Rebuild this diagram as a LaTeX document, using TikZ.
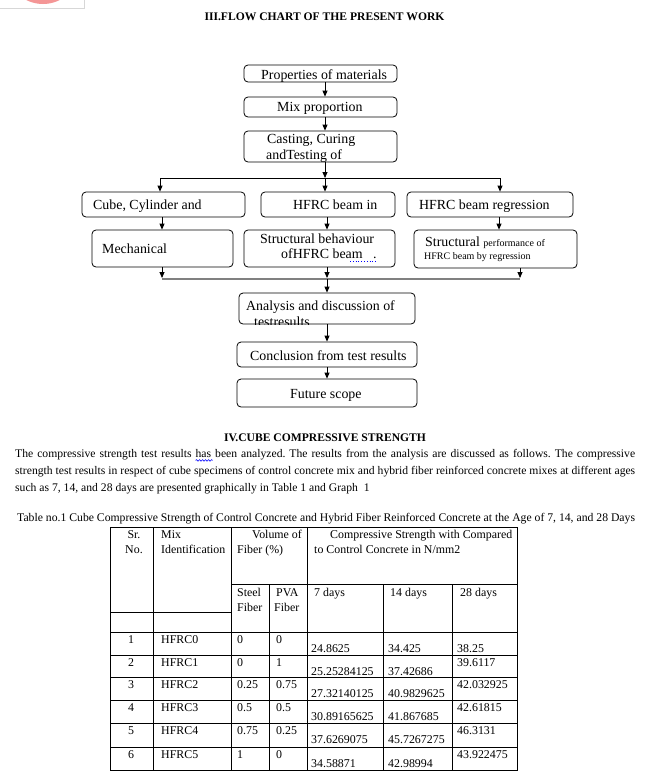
\documentclass[tikz,border=0pt]{standalone}
\usepackage{fontspec}
\setmainfont{Liberation Serif}
\usetikzlibrary{arrows.meta,decorations.pathmorphing}
\definecolor{logopink}{RGB}{244,150,150}
\definecolor{framegray}{RGB}{215,215,215}
\definecolor{joingray}{RGB}{128,128,128}
\newcommand\spellwave[1]{\tikz[overlay,baseline]{\draw[blue, line width=0.6pt, decorate, decoration={snake, amplitude=0.8pt, segment length=3pt}] (0pt,-3pt) -- (17pt,-3pt);}#1}
\begin{document}
\begin{tikzpicture}[x=1pt,y=-1pt,
  box/.style={draw, rounded corners=4pt, line width=0.8pt, inner sep=0pt},
  arr/.style={-{Triangle[width=5pt,length=6pt]}, line width=0.8pt},
  ftxt/.style={anchor=base west, inner sep=0pt, font=\fontsize{13.9}{16}\selectfont},
  stxt/.style={anchor=base west, inner sep=0pt, font=\fontsize{10}{12}\selectfont},
  ttxt/.style={anchor=base west, inner sep=0pt, font=\fontsize{11.9}{14}\selectfont},
  tctr/.style={anchor=base, inner sep=0pt, font=\fontsize{11.9}{14}\selectfont},
  head/.style={anchor=base, inner sep=0pt, font=\bfseries\fontsize{11.6}{14}\selectfont},
  tline/.style={line width=0.8pt},
]
\useasboundingbox (0,0) rectangle (663,777);
\fill[white] (0,0) rectangle (663,777);
% logo remnant
\fill[logopink] (43,-33) circle (37);
\draw[framegray, line width=0.6pt] (0,8.5) -- (84,8.5) -- (84,0);

\node[head] (t3) at (324.5,20) {III.FLOW CHART OF THE PRESENT WORK};

% boxes
\node[box, minimum width=153pt, minimum height=17pt] (b1) at (320.5,73.5) {};
\node[box, minimum width=153pt, minimum height=20pt] (b2) at (320.5,107) {};
\node[box, minimum width=153pt, minimum height=31pt] (b3) at (320.5,146.5) {};
\node[box, minimum width=163pt, minimum height=25pt] (c1) at (163.5,204.5) {};
\node[box, minimum width=134pt, minimum height=25pt] (c2) at (328,204.5) {};
\node[box, minimum width=166pt, minimum height=25pt] (c3) at (490,204.5) {};
\node[box, minimum width=141pt, minimum height=37pt] (d1) at (162.5,248.5) {};
\node[box, minimum width=151pt, minimum height=37pt] (d2) at (319.5,248.5) {};
\node[box, minimum width=163pt, minimum height=38pt] (d3) at (495.5,249) {};
\node[box, minimum width=176pt, minimum height=31pt] (e1) at (327,308.5) {};
\node[box, minimum width=180pt, minimum height=25pt] (e2) at (327,354.5) {};
\node[box, minimum width=180pt, minimum height=28pt] (e3) at (327,393) {};

% box texts
\node[ftxt] (tb1) at (261,79) {Properties of materials};
\node[ftxt] (tb2) at (277,111) {Mix proportion};
\begin{scope}
\clip (244,131) rectangle (397,162);
\node[ftxt] (tb3a) at (267,143) {Casting, Curing};
\node[ftxt] (tb3b) at (266,159) {andTesting of};
\end{scope}
\node[ftxt] (tc1) at (93,209) {Cube, Cylinder and};
\node[ftxt] (tc2) at (293,209) {HFRC beam in};
\node[ftxt] (tc3) at (419,209) {HFRC beam regression};
\node[ftxt] (td1) at (102,253) {Mechanical};
\node[ftxt] (td2a) at (260,243) {Structural behaviour};
\node[ftxt] (td2b) at (281,258) {ofHFRC beam};
\node[ftxt] (td2c) at (373,258) {.};
\draw[blue, dotted, line width=0.8pt] (350,261) -- (377,261);
\node[ftxt] (td3a) at (425,246) {Structural {\fontsize{10}{12}\selectfont performance of}};
\node[stxt] (td3b) at (424,259) {HFRC beam by regression};
\begin{scope}
\clip (239,293) rectangle (415,324);
\node[ftxt] (te1a) at (246,310) {Analysis and discussion of};
\node[ftxt] (te1b) at (254,326) {testresults};
\end{scope}
\node[ftxt] (te2) at (250,360) {Conclusion from test results};
\node[ftxt] (te3) at (290,398) {Future scope};

% junction coordinates
\coordinate (jl) at (160,178);
\coordinate (jm) at (325,178);
\coordinate (jr) at (500,178);
\coordinate (gl) at (162,279);
\coordinate (gm) at (327,279);
\coordinate (gr) at (520,279);
\coordinate (rc) at (499,0);

% connectors
\draw[arr] (b1.south -| jm) -- (b2.north -| jm);
\draw[arr] (b2.south -| jm) -- (b3.north -| jm);
\draw[arr] (b3.south -| jm) -- (jm);
\draw[line width=0.8pt] (jl) -- (jr);
\draw[arr] (jl) -- (c1.north -| jl);
\draw[arr] (jm) -- (c2.north -| jm);
\draw[arr] (jr) -- (c3.north -| jr);
\draw[arr] (c1.south -| gl) -- (d1.north -| gl);
\draw[arr] (c2.south -| gm) -- (d2.north -| gm);
\draw[arr] (c3.south -| rc) -- (d3.north -| rc);
\draw[joingray, line width=2.2pt] (gl) -- (gr);
\draw[arr] (d1.south -| gl) -- ([yshift=1pt]gl);
\draw[arr] (d2.south -| gm) -- ([yshift=1pt]gm);
\draw[arr] (d3.south -| gr) -- ([yshift=1pt]gr);
\draw[arr] (gm) -- (e1.north -| gm);
\draw[arr] (e1.south -| gm) -- (e2.north -| gm);
\draw[arr] (e2.south -| gm) -- (e3.north -| gm);

% section IV
\node[head] (t4) at (325,441) {IV.CUBE COMPRESSIVE STRENGTH};
\node[anchor=north west, inner sep=0pt, text width=620pt, align=justify,
      font=\fontsize{11.65}{17}\selectfont\frenchspacing] (para) at (15,449)
 {The compressive strength test results \spellwave{has} been analyzed. The results from the analysis are discussed as follows. The compressive\linebreak
  strength test results in respect of cube specimens of control concrete mix and hybrid fiber reinforced concrete mixes at different ages\linebreak
  such as 7, 14, and 28 days are presented graphically in Table 1 and Graph\ \ 1};

\node[anchor=base west, inner sep=0pt, font=\fontsize{11.7}{14}\selectfont] (cap) at (17,521) {Table no.1 Cube Compressive Strength of Control Concrete and Hybrid Fiber Reinforced Concrete at the Age of 7, 14, and 28 Days};

% table grid
\draw[tline] (110,527) rectangle (517,770);
\draw[tline] (153,527) -- (153,770);
\draw[tline] (231,527) -- (231,770);
\draw[tline] (307,527) -- (307,770);
\draw[tline] (231,584) -- (517,584);
\draw[tline] (269,584) -- (269,770);
\draw[tline] (383,584) -- (383,770);
\draw[tline] (452,584) -- (452,770);
\draw[tline] (110,612) -- (231,612);
\foreach \yy in {632,655,677,700,723,747} \draw[tline] (110,\yy) -- (517,\yy);

% header texts
\node[tctr] (hsr) at (134,538) {Sr.};
\node[tctr] (hno) at (134,553) {No.};
\node[ttxt] (hmix) at (161,538) {Mix};
\node[ttxt] (hid) at (161,553) {Identification};
\node[ttxt] (hvol) at (252,538) {Volume};
\node[ttxt, anchor=base east] (hof) at (302,538) {of};
\node[ttxt] (hfib) at (237,553) {Fiber (\%)};
\node[ttxt] (hcs) at (330,538) {Compressive Strength with Compared};
\node[ttxt] (hcc) at (314,553) {to Control Concrete in N/mm2};
\node[ttxt] (hst) at (237,596) {Steel};
\node[ttxt] (hsf) at (237,611) {Fiber};
\node[ttxt] (hpv) at (276,596) {PVA};
\node[ttxt] (hpf) at (274,611) {Fiber};
\node[ttxt] (h7) at (314,596) {7 days};
\node[ttxt] (h14) at (390,596) {14 days};
\node[ttxt] (h28) at (460,596) {28 days};

% data rows
\foreach \t/\n/\m/\s/\p/\a/\b/\c/\cy [count=\i] in {
  632/1/HFRC0/0/0/24.8625/34.425/38.25/20,
  655/2/HFRC1/0/1/25.25284125/37.42686/39.6117/11,
  677/3/HFRC2/0.25/0.75/27.32140125/40.9829625/42.032925/11,
  700/4/HFRC3/0.5/0.5/30.89165625/41.867685/42.61815/11,
  723/5/HFRC4/0.75/0.25/37.6269075/45.7267275/46.3131/11,
  747/6/HFRC5/1/0/34.58871/42.98994/43.922475/11} {
  \node[tctr] (rn\i) at (131,\t+11) {\n};
  \node[ttxt] (rm\i) at (161,\t+11) {\m};
  \node[ttxt] (rs\i) at (237,\t+11) {\s};
  \node[ttxt] (rp\i) at (276,\t+11) {\p};
  \node[ttxt] (ra\i) at (311,\t+20) {\a};
  \node[ttxt] (rb\i) at (388,\t+20) {\b};
  \node[ttxt] (rc\i) at (457,\t+\cy) {\c};
}
\end{tikzpicture}
\end{document}
